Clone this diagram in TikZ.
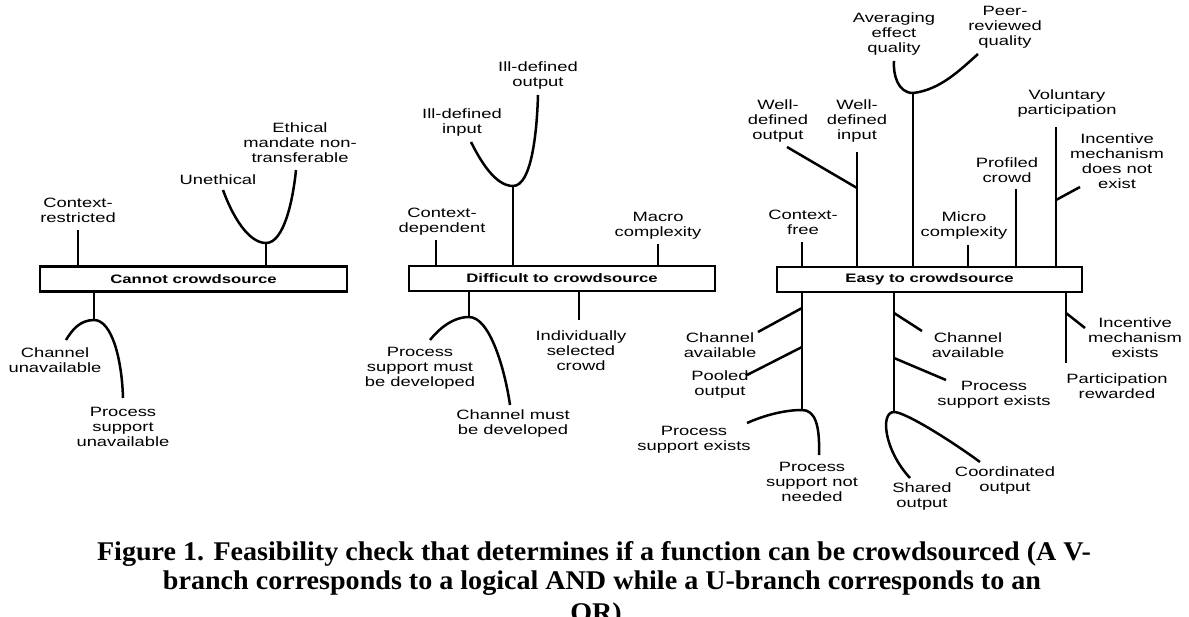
\documentclass[tikz,border=0pt]{standalone}
\usepackage{fontspec}
\newfontfamily\labfont[FakeStretch=1.36]{Liberation Sans}
\newfontfamily\capfont[FakeStretch=1.04]{Liberation Serif}
\begin{document}
\begin{tikzpicture}[x=1pt,y=-1pt,
  lab/.style={align=center,inner sep=0pt,font=\labfont\fontsize{13.5}{15}\selectfont},
  boxnode/.style={draw,line width=2.4pt,inner sep=0pt,minimum height=25pt,font=\labfont\bfseries\fontsize{12.3}{14}\selectfont},
  link/.style={line width=2.5pt},
  captext/.style={anchor=base,inner sep=0pt,font=\capfont\bfseries\fontsize{27}{29}\selectfont}]
\useasboundingbox (0,0) rectangle (1189,616);

% ---------- boxes
\node[boxnode,minimum width=307pt] (b1) at (193.5,279) {Cannot crowdsource};
\node[boxnode,minimum width=306pt] (b2) at (562,278.5) {Difficult to crowdsource};
\node[boxnode,minimum width=305pt] (b3) at (929.5,279.5) {Easy to crowdsource};

% ---------- box 1
\node[lab] (l1a) at (78,210) {Context-\\restricted};
\coordinate (e1a) at (78,230);
\draw[link] (b1.north -| e1a) -- (e1a);
\node[lab] (l1b) at (218,180) {Unethical};
\node[lab] (l1c) at (300,143) {Ethical\\mandate non-\\transferable};
\coordinate (j1u) at (266,243);
\coordinate (e1b) at (223,190);
\coordinate (e1c) at (296,170);
\draw[link] (b1.north -| j1u) -- (j1u);
\draw[link] (e1b) .. controls (232,215) and (248,243) .. (j1u) .. controls (284,243) and (293,200) .. (e1c);
\node[lab] (l1d) at (55,360) {Channel\\unavailable};
\node[lab] (l1e) at (123,427) {Process\\support\\unavailable};
\coordinate (j1d) at (94,320);
\coordinate (e1d) at (66,340);
\coordinate (e1e) at (123,398);
\draw[link] (b1.south -| j1d) -- (j1d);
\draw[link] (e1d) .. controls (72,330) and (80,320) .. (j1d) .. controls (112,320) and (122,360) .. (e1e);

% ---------- box 2
\node[lab] (l2a) at (442,222) {Context-\\dependent};
\coordinate (e2a) at (436,240);
\draw[link] (b2.north -| e2a) -- (e2a);
\node[lab] (l2b) at (658,226) {Macro\\complexity};
\coordinate (e2b) at (658,244);
\draw[link] (b2.north -| e2b) -- (e2b);
\node[lab] (l2c) at (462,123) {Ill-defined\\input};
\node[lab] (l2d) at (538,76) {Ill-defined\\output};
\coordinate (j2u) at (513,186);
\coordinate (e2c) at (471,142);
\coordinate (e2d) at (538,95);
\draw[link] (b2.north -| j2u) -- (j2u);
\draw[link] (e2c) .. controls (480,160) and (495,186) .. (j2u) .. controls (532,186) and (537,130) .. (e2d);
\node[lab] (l2e) at (420,368) {Process\\support must\\be developed};
\node[lab] (l2f) at (513,424) {Channel must\\be developed};
\coordinate (j2d) at (469,317);
\coordinate (e2e) at (430,340);
\coordinate (e2f) at (510,405);
\draw[link] (b2.south -| j2d) -- (j2d);
\draw[link] (e2e) .. controls (438,330) and (452,317) .. (j2d) .. controls (490,317) and (505,370) .. (e2f);
\node[lab] (l2g) at (581,351) {Individually\\selected\\crowd};
\coordinate (e2g) at (579,320);
\draw[link] (b2.south -| e2g) -- (e2g);

% ---------- box 3, top
\node[lab] (l3a) at (803,222) {Context-\\free};
\coordinate (e3a) at (802,242);
\draw[link] (b3.north -| e3a) -- (e3a);
\node[lab] (l3b) at (857,121) {Well-\\defined\\input};
\node[lab] (l3c) at (778,121) {Well-\\defined\\output};
\coordinate (e3b) at (857,152);
\coordinate (j3c) at (857,188);
\coordinate (e3c) at (787,147);
\draw[link] (b3.north -| e3b) -- (e3b);
\draw[link] (j3c) -- (e3c);
\node[lab] (l3d) at (894,34) {Averaging\\effect\\quality};
\node[lab] (l3e) at (1005,27) {Peer-\\reviewed\\quality};
\coordinate (j3u) at (913,93);
\coordinate (e3d) at (894,61);
\coordinate (e3e) at (978,54);
\draw[link] (b3.north -| j3u) -- (j3u);
\draw[link] (e3d) .. controls (893,75) and (898,93) .. (j3u) .. controls (940,90) and (960,70) .. (e3e);
\node[lab] (l3f) at (964,226) {Micro\\complexity};
\coordinate (e3f) at (968,245);
\draw[link] (b3.north -| e3f) -- (e3f);
\node[lab] (l3g) at (1007,170) {Profiled\\crowd};
\coordinate (e3g) at (1016,189);
\draw[link] (b3.north -| e3g) -- (e3g);
\node[lab] (l3h) at (1067,104) {Voluntary\\participation};
\node[lab] (l3i) at (1117,161) {Incentive\\mechanism\\does not\\exist};
\coordinate (e3h) at (1056,127);
\coordinate (j3i) at (1056,200);
\coordinate (e3i) at (1080,187);
\draw[link] (b3.north -| e3h) -- (e3h);
\draw[link] (j3i) -- (e3i);

% ---------- box 3, bottom left
\node[lab] (l3j) at (720,345) {Channel\\available};
\node[lab] (l3k) at (720,385) {Pooled\\output};
\node[lab] (l3l) at (694,440) {Process\\support exists};
\node[lab] (l3m) at (812,482) {Process\\support not\\needed};
\coordinate (j3l) at (802,410);
\coordinate (j3j) at (802,308);
\coordinate (e3j) at (758,332);
\coordinate (j3k) at (802,347);
\coordinate (e3k) at (747,375);
\coordinate (e3l) at (747,423);
\coordinate (e3m) at (819,455);
\draw[link] (b3.south -| j3l) -- (j3l);
\draw[link] (j3j) -- (e3j);
\draw[link] (j3k) -- (e3k);
\draw[link] (e3l) .. controls (765,415) and (785,410) .. (j3l) .. controls (815,410) and (820,425) .. (e3m);

% ---------- box 3, bottom middle
\node[lab] (l3n) at (968,345) {Channel\\available};
\node[lab] (l3o) at (994,395) {Process\\support exists};
\node[lab] (l3p) at (922,497) {Shared\\output};
\node[lab] (l3q) at (1005,481) {Coordinated\\output};
\coordinate (j3p) at (894,412);
\coordinate (j3n) at (894,313);
\coordinate (e3n) at (922,331);
\coordinate (j3o) at (894,358);
\coordinate (e3o) at (946,380);
\coordinate (e3p) at (910,478);
\coordinate (e3q) at (980,462);
\draw[link] (b3.south -| j3p) -- (j3p);
\draw[link] (j3n) -- (e3n);
\draw[link] (j3o) -- (e3o);
\draw[link] (e3p) .. controls (884,450) and (880,412) .. (j3p) .. controls (905,412) and (950,440) .. (e3q);

% ---------- box 3, bottom right
\node[lab] (l3r) at (1135,338) {Incentive\\mechanism\\exists};
\node[lab] (l3s) at (1117,386) {Participation\\rewarded};
\coordinate (e3s) at (1066,363);
\coordinate (j3r) at (1066,313);
\coordinate (e3r) at (1085,328);
\draw[link] (b3.south -| e3s) -- (e3s);
\draw[link] (j3r) -- (e3r);

% ---------- caption
\node[captext] (c1) at (594,560) {Figure 1. Feasibility check that determines if a function can be crowdsourced (A V-};
\node[captext] (c2) at (602,589) {branch corresponds to a logical AND while a U-branch corresponds to an};
\node[captext] (c3) at (596,621) {OR)};
\end{tikzpicture}
\end{document}
